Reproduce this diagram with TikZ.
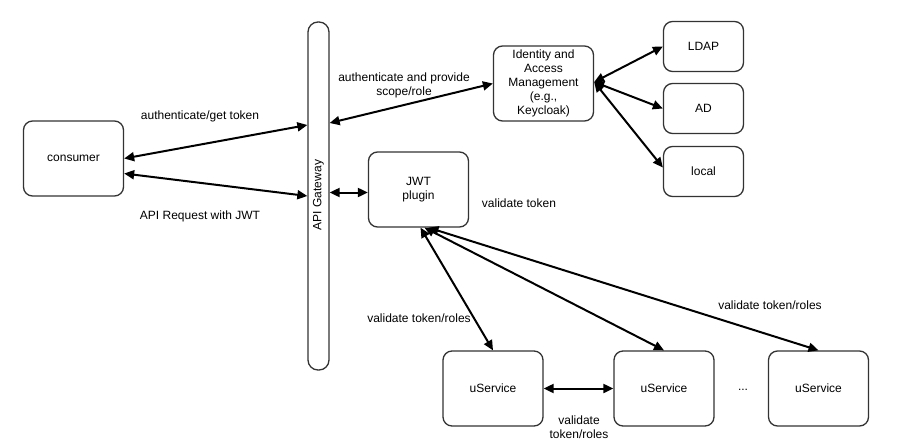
\documentclass[tikz,border=0pt]{standalone}
\usepackage{fontspec}
\setmainfont{Liberation Sans}
\usetikzlibrary{arrows.meta,calc}
\begin{document}
\begin{tikzpicture}[x=1pt,y=-1pt,
  font=\fontsize{12}{14}\selectfont,
  box/.style={draw=black!80, line width=1.3pt, rounded corners=9pt, fill=white,
    minimum width=100pt, minimum height=75pt, align=center, inner sep=0pt},
  smallbox/.style={box, minimum width=80pt, minimum height=50pt},
  conn/.style={line width=2pt, {Triangle[length=10pt,width=9pt]}-{Triangle[length=10pt,width=9pt]}},
  lbl/.style={align=center, inner sep=0pt}
]
\useasboundingbox[fill=white] (0,0) rectangle (901,444);

% nodes
\node[box] (consumer) at (73.5,158.5) {consumer};
\node[box, minimum width=21pt, minimum height=348pt, rounded corners=10pt] (gateway) at (318.5,196) {};
\node[lbl, rotate=90] (gwlabel) at (318.5,195) {API Gateway};
\node[box] (iam) at (543.5,83.5) {Identity and\\Access\\Management\\(e.g.,\\Keycloak)};
\node[box] (jwt) at (418.5,189.5) {JWT\\plugin};
\node[smallbox] (ldap) at (703.5,46.5) {LDAP};
\node[smallbox] (ad) at (703.5,108.5) {AD};
\node[smallbox] (local) at (703.5,171.5) {local};
\node[box] (us1) at (493,388.5) {uService};
\node[box] (us2) at (664,388.5) {uService};
\node[box] (us3) at (818.5,388.5) {uService};
\node[lbl] (dots) at (743,390) {...};

% connectors
\draw[conn] (consumer.east) -- ([yshift=71pt]gateway.west);
\draw[conn] ([yshift=-15pt]consumer.east) -- (gateway.west);
\draw[conn] ([yshift=73pt]gateway.east) -- (iam.west);
\path ([yshift=-3pt]jwt.west) coordinate (jg);
\draw[conn] (gateway.east |- jg) -- (jg);
\draw[conn] ([yshift=1.5pt]iam.east) -- (ldap.west);
\draw[conn] ([yshift=1.5pt]iam.east) -- (ad.west);
\draw[conn] ([yshift=1.5pt]iam.east) -- ([yshift=4pt]local.west);
\draw[conn] ([xshift=2pt]jwt.south) -- (us1.north);
\draw[conn] ([xshift=6pt]jwt.south) -- (us2.north);
\draw[conn] ([xshift=10pt]jwt.south) -- (us3.north);
\draw[conn] (us1.east) -- (us2.west);

% labels
\node[lbl] (l1) at (200,116) {authenticate/get token};
\node[lbl] (l2) at (200,216) {API Request with JWT};
\node[lbl] (l3) at (404,85) {authenticate and provide\\scope/role};
\node[lbl] (l4) at (519,203) {validate token};
\node[lbl] (l5) at (419,318) {validate token/roles};
\node[lbl] (l6) at (770,305) {validate token/roles};
\node[lbl] (l7) at (579,427) {validate\\token/roles};
\end{tikzpicture}
\end{document}
